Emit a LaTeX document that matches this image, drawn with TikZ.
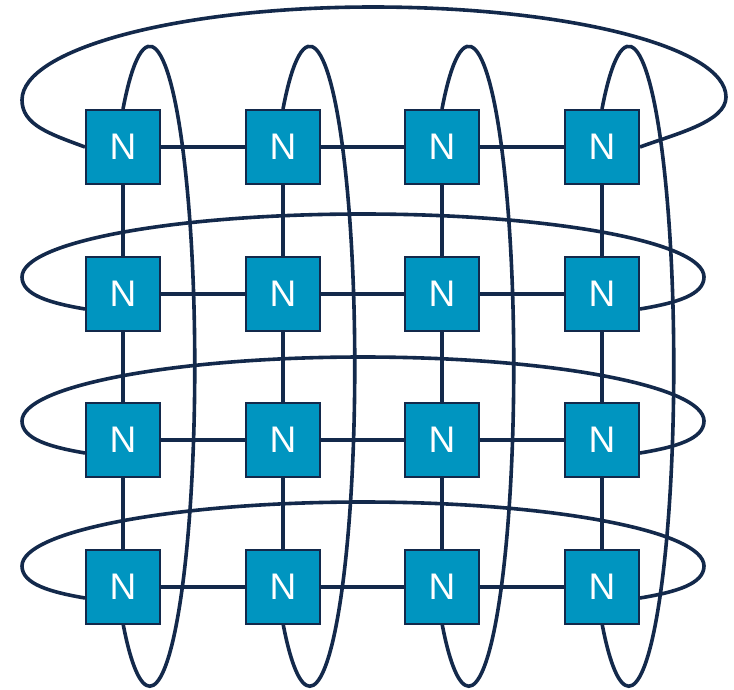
\documentclass[tikz,border=0pt]{standalone}
\usepackage{fontspec}
\setmainfont{Liberation Sans}
\usetikzlibrary{backgrounds}
\definecolor{navy}{RGB}{19,41,75}
\definecolor{nodefill}{RGB}{0,149,192}
\begin{document}
\begin{tikzpicture}[x=1pt,y=-1pt,
  nbox/.style={draw=navy, line width=1.6pt, fill=nodefill, minimum size=74.4pt,
    inner sep=0pt, text=white, font=\fontsize{37}{40}\selectfont},
  link/.style={draw=navy, line width=3.6pt}]
\useasboundingbox (0,0) rectangle (734,689);
\foreach \c/\x in {1/123,2/283,3/442,4/602}
  \foreach \r/\y in {1/147,2/294,3/440,4/587}
    \node[nbox] (n\r\c) at (\x,\y) {N};
\begin{scope}[on background layer]
  % mesh links
  \foreach \r in {1,2,3,4} {
    \draw[link] (n\r1) -- (n\r2) -- (n\r3) -- (n\r4);
    \draw[link] (n1\r) -- (n2\r) -- (n3\r) -- (n4\r);
  }
  % top row wrap-around
  \draw[link] (n11.west) .. controls (50,134) and (22,125) .. (22,100)
    .. controls (22,49) and (179,7) .. (373,7)
    .. controls (568,7) and (726,47) .. (726,97)
    .. controls (726,122) and (675,134) .. (n14.east);
  % other rows wrap-around
  \foreach \r/\y/\e/\s/\t in {2/294/-17/15/-80,3/440/-19/13/-83,4/587/-21/11/-85}
    \draw[link] ([yshift=-\s pt]n\r1.west) .. controls (50,\y+\s-6) and (22,\y+\e+18) .. (22,\y+\e)
      .. controls (22,\y+\e-35) and (175,\y+\t) .. (363,\y+\t)
      .. controls (551,\y+\t) and (704,\y+\e-35) .. (704,\y+\e)
      .. controls (704,\y+\e+18) and (676,\y+\s-6) .. ([yshift=-\s pt]n\r4.east);
  % column wrap-around
  \foreach \c in {1,2,3,4}
    \draw[link] (n1\c.north) arc[start angle=233.5, end angle=486.5, x radius=45, y radius=320];
\end{scope}
\end{tikzpicture}
\end{document}
